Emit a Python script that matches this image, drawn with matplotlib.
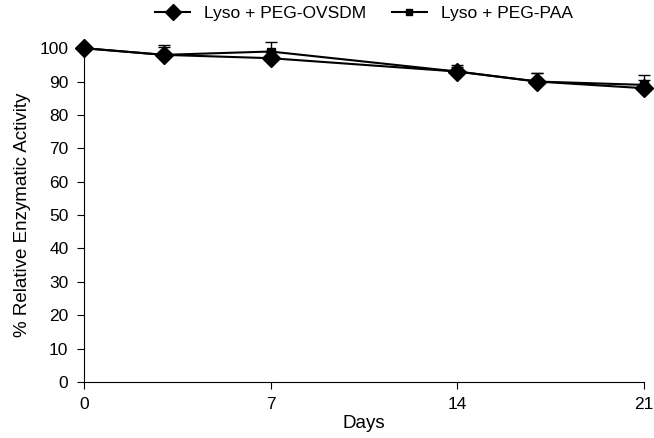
import matplotlib
matplotlib.use("Agg")
import matplotlib.pyplot as plt
from matplotlib.lines import Line2D

plt.rcParams["font.family"] = ["Liberation Sans", "DejaVu Sans"]

days = [0, 3, 7, 14, 17, 21]
ovsdm = [100, 98, 97, 93, 90, 88]
ovsdm_err = [0.5, 3, 0.5, 1.5, 2.5, 2.5]
paa = [100, 98, 99, 93, 90, 89]
paa_err = [0.5, 2.5, 3, 2, 2.5, 3]

fig = plt.figure(figsize=(6.54, 4.38), dpi=100)
ax = fig.add_axes([0.128, 0.128, 0.857, 0.762])

for y, err, mk, ms in [(paa, paa_err, "s", 6), (ovsdm, ovsdm_err, "D", 9)]:
    cont = ax.errorbar(days, y, yerr=[[0] * len(y), err], color="black",
                       marker=mk, markersize=ms, lw=1.5, capsize=4,
                       elinewidth=1)
    for art in [cont.lines[0], *cont.lines[1], *cont.lines[2]]:
        art.set_clip_on(False)

ax.set_xlim(0, 21)
ax.set_ylim(0, 100)
ax.set_xticks([0, 7, 14, 21])
ax.set_yticks(range(0, 101, 10))
ax.spines["top"].set_visible(False)
ax.spines["right"].set_visible(False)
ax.tick_params(direction="out", length=5, labelsize=12.5, pad=6)
ax.set_xlabel("Days", fontsize=13.5, labelpad=2)
ax.set_ylabel("% Relative Enzymatic Activity", fontsize=13.5, labelpad=6)

handles = [
    Line2D([], [], color="black", lw=1.5, marker="D", markersize=8),
    Line2D([], [], color="black", lw=1.5, marker="s", markersize=5),
]
ax.legend(handles, ["Lyso + PEG-OVSDM", "Lyso + PEG-PAA"], loc="lower center",
          bbox_to_anchor=(0.5, 1.06), ncol=2, frameon=False, fontsize=12.5,
          handlelength=2, columnspacing=1.5, borderaxespad=0)

fig.savefig("out.png", dpi=100)
